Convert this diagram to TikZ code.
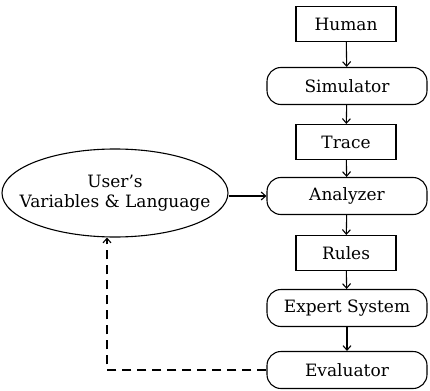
\documentclass[tikz,border=0pt]{standalone}
\usepackage{fontspec}
\setmainfont{DejaVu Serif}
\usetikzlibrary{shapes.geometric,arrows.meta}
\begin{document}
\begin{tikzpicture}[x=1pt,y=-1pt,
  every node/.style={font=\fontsize{17}{20}\selectfont, line width=1.1pt, inner sep=0pt},
  rectbox/.style={draw, rectangle, minimum width=100pt, minimum height=35pt},
  roundbox/.style={draw, rectangle, rounded corners=14pt, minimum width=160pt, minimum height=37pt},
  ellbox/.style={draw, ellipse, minimum width=226pt, minimum height=88pt},
  conn/.style={line width=1.1pt, -{Straight Barb[length=4.5pt,width=8pt]}},
  dconn/.style={conn, dash pattern=on 9pt off 6pt}]
\useasboundingbox (0,0) rectangle (430,390);
\node[rectbox]  (human) at (346,24)  {Human};
\node[roundbox] (sim)   at (347,86)  {Simulator};
\node[rectbox]  (trace) at (346,142) {Trace};
\node[roundbox] (ana)   at (347,196) {Analyzer};
\node[rectbox]  (rules) at (346,253) {Rules};
\node[roundbox] (exp)   at (347,308) {Expert System};
\node[roundbox] (eval)  at (347,370) {Evaluator};
\node[ellbox] (user) at (115,193) {};
\node[align=center] (userlbl) at (user.center) {User's\\Variables \& Language};
\draw[conn] (human) -- (sim);
\draw[conn] (sim) -- (trace);
\draw[conn] (trace) -- (ana);
\draw[conn] (ana) -- (rules);
\draw[conn] (rules) -- (exp);
\draw[conn] (exp) -- (eval);
\draw[conn] (user.east |- ana.west) -- (ana.west);
\draw[dconn] (eval.west) -| (user.south -| 107,0);
\end{tikzpicture}
\end{document}
